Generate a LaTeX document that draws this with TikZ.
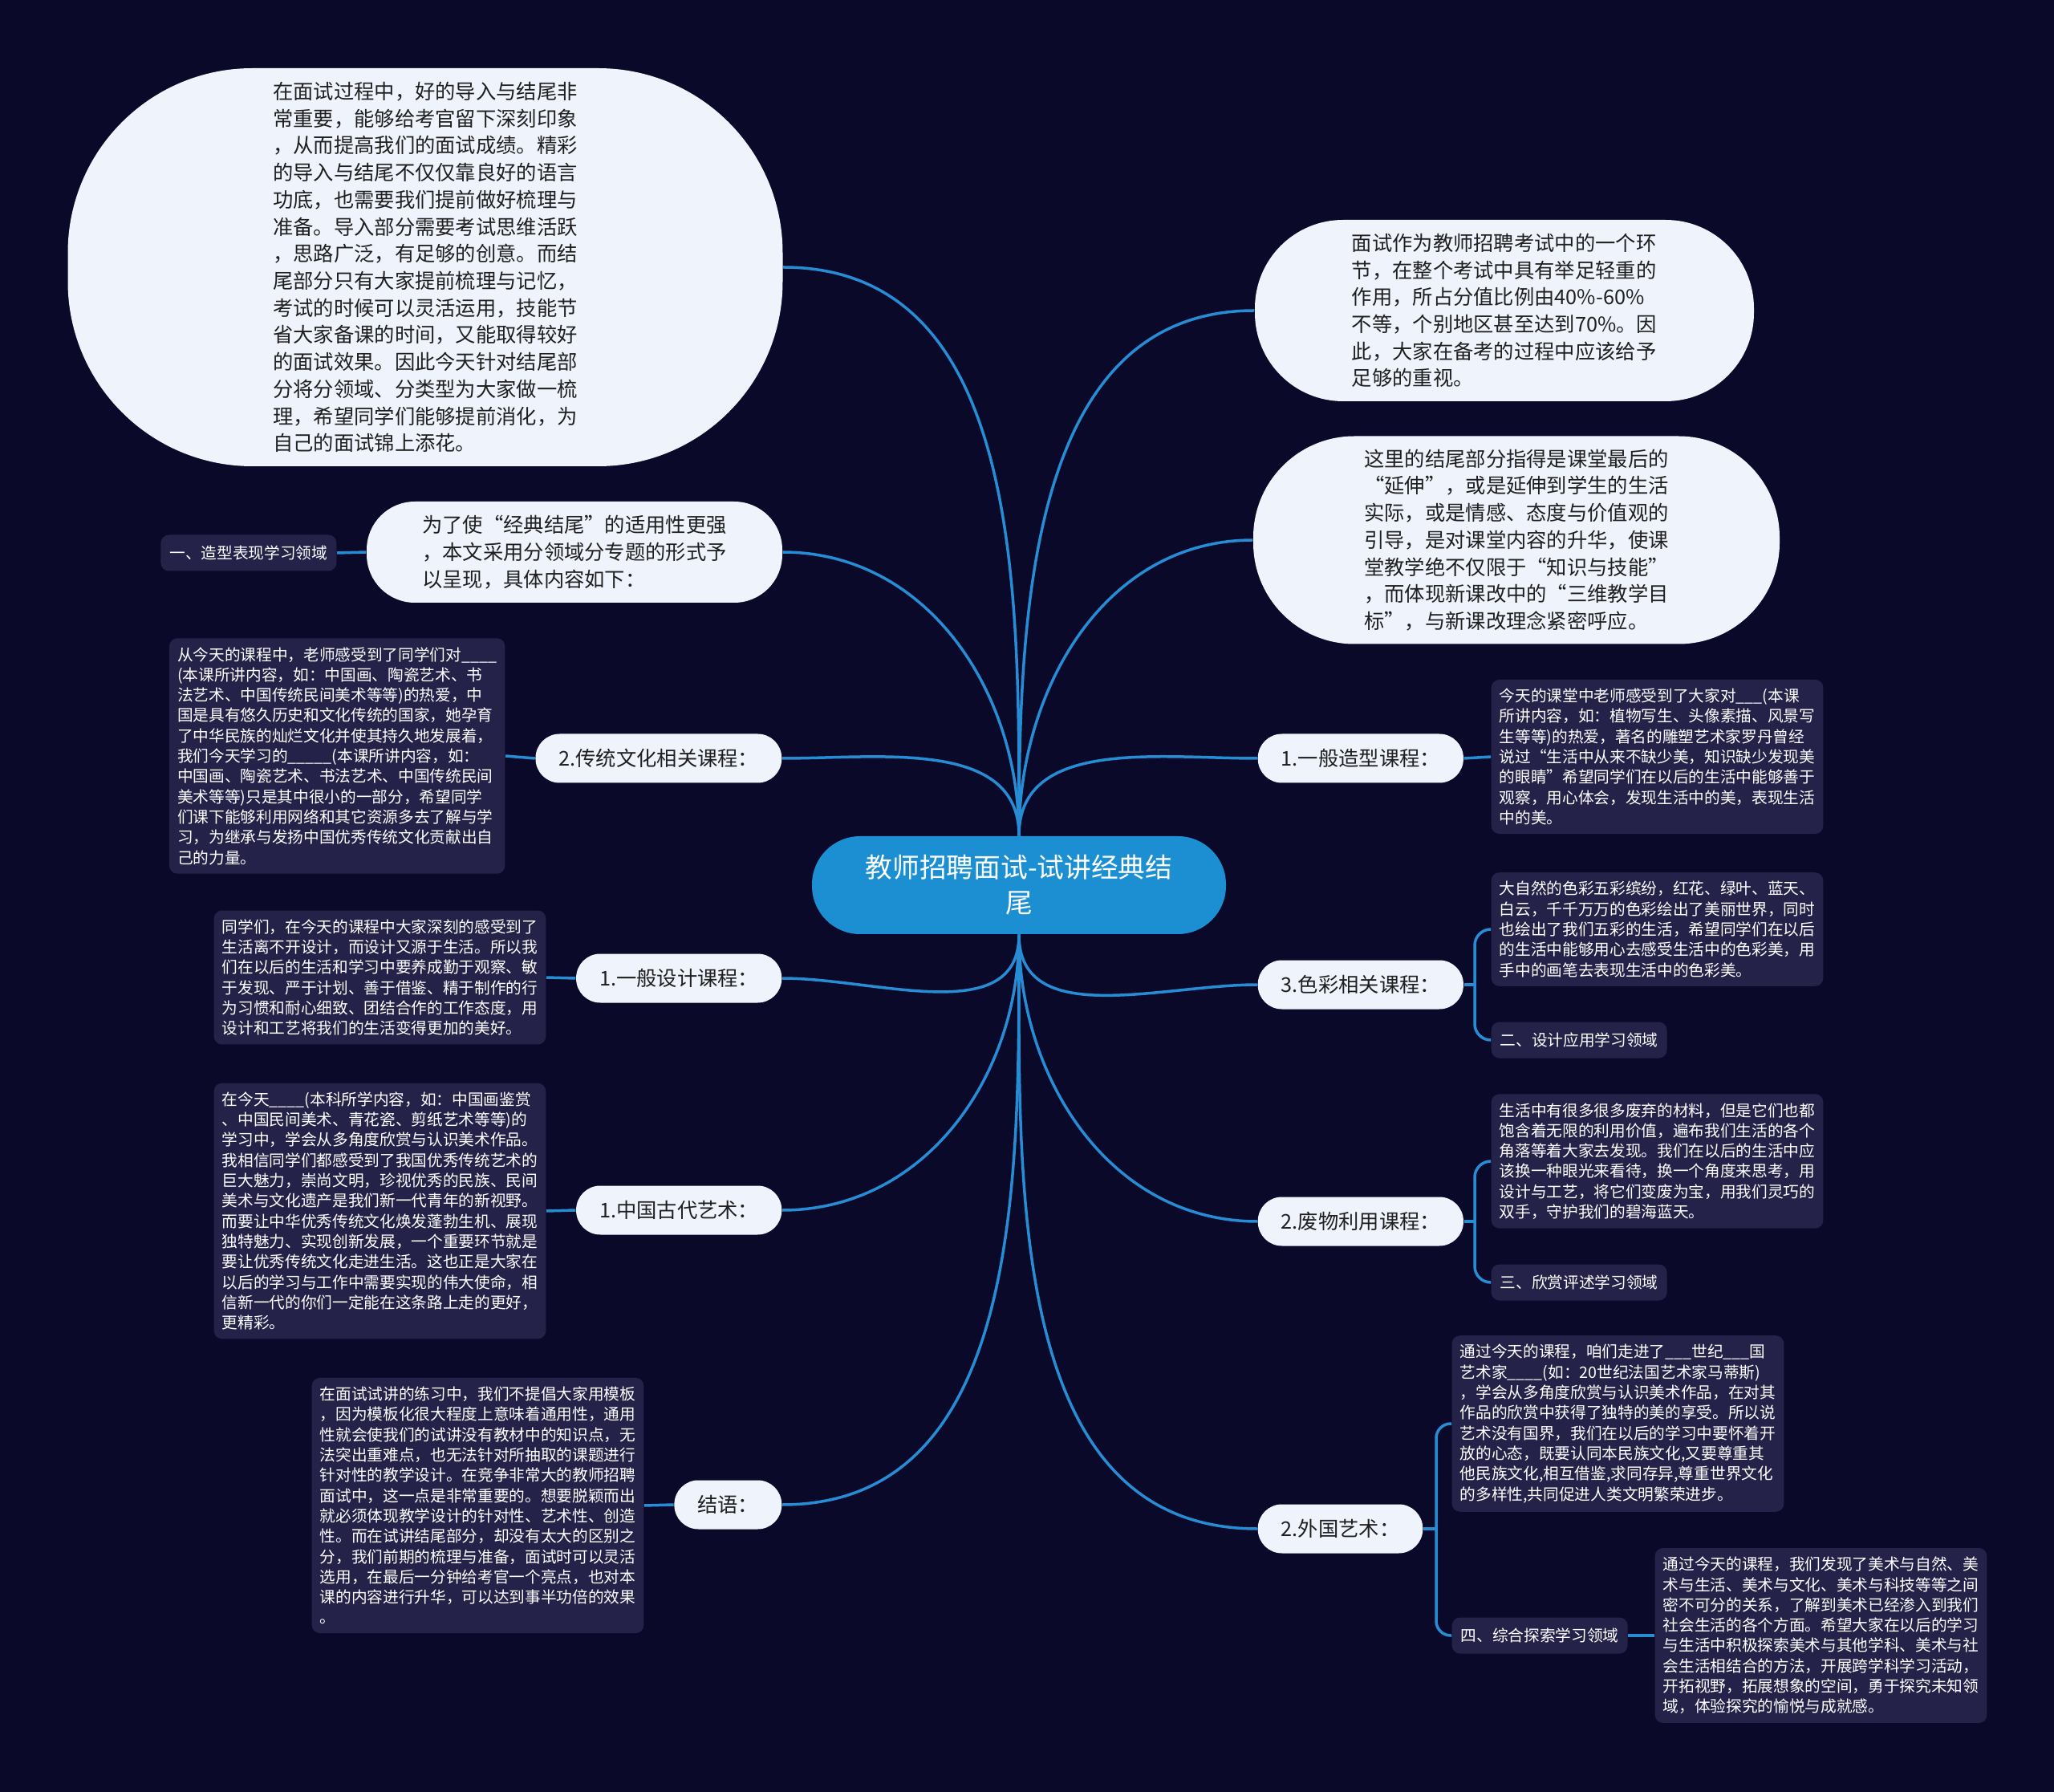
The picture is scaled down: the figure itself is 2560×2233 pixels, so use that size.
\documentclass[tikz,border=0pt]{standalone}
\usepackage{fontspec}
\setmainfont{Noto Sans CJK SC}
\usepackage{tikz}

\definecolor{bgnavy}{RGB}{11,9,42}
\definecolor{rootblue}{RGB}{28,143,210}
\definecolor{linkblue}{RGB}{38,140,212}
\definecolor{paleblue}{RGB}{238,243,252}
\definecolor{notebg}{RGB}{37,34,74}

\begin{document}
\begin{tikzpicture}[x=0.1mm, y=0.1mm,
    link/.style={draw=linkblue, line width=0.35mm},
    rootnode/.style={fill=rootblue, text=white, rounded corners=6mm, minimum width=51.6mm,
        minimum height=12.2mm, align=center, font=\fontsize{9.6pt}{12.5pt}\selectfont},
    bubble/.style={fill=paleblue, text=black!88, align=left, inner sep=0pt,
        font=\fontsize{7.2pt}{9.6pt}\selectfont},
    pill/.style={fill=paleblue, text=black!88, rounded corners=3mm, minimum height=6.1mm,
        inner xsep=2.9mm, font=\fontsize{7.2pt}{9.6pt}\selectfont},
    note/.style={fill=notebg, text=white, rounded corners=1mm, align=left, inner xsep=1mm,
        inner ysep=1.1mm, font=\fontsize{5.6pt}{7.2pt}\selectfont},
    tag/.style={fill=notebg, text=white, rounded corners=1mm, minimum height=4.5mm,
        inner xsep=1.1mm, font=\fontsize{5.6pt}{7.2pt}\selectfont}]

    % Background
    \fill[bgnavy] (0,0) rectangle (2560,-2233);
    \useasboundingbox (0,0) rectangle (2560,-2233);

    % Root
    \node[rootnode] (root) at (1270,-1103) {教师招聘面试-试讲经典结\\尾};

    % Left branches
    \node[bubble, minimum width=89.1mm, minimum height=49.6mm, rounded corners=23mm] (intro) at (530,-333)
        {在面试过程中，好的导入与结尾非\\常重要，能够给考官留下深刻印象\\，从而提高我们的面试成绩。精彩\\的导入与结尾不仅仅靠良好的语言\\功底，也需要我们提前做好梳理与\\准备。导入部分需要考试思维活跃\\，思路广泛，有足够的创意。而结\\尾部分只有大家提前梳理与记忆，\\考试的时候可以灵活运用，技能节\\省大家备课的时间，又能取得较好\\的面试效果。因此今天针对结尾部\\分将分领域、分类型为大家做一梳\\理，希望同学们能够提前消化，为\\自己的面试锦上添花。};
    \node[bubble, minimum width=51.8mm, minimum height=12.6mm, rounded corners=6mm] (scope) at (716,-688)
        {为了使“经典结尾”的适用性更强\\，本文采用分领域分专题的形式予\\以呈现，具体内容如下：};
    \node[tag, anchor=east] (area1) at (420,-689) {一、造型表现学习领域};

    \node[pill, anchor=east] (trad) at (975,-945) {2.传统文化相关课程：};
    \node[note, anchor=east] (tradtxt) at (630,-942)
        {从今天的课程中，老师感受到了同学们对\_\_\_\_\\(本课所讲内容，如：中国画、陶瓷艺术、书\\法艺术、中国传统民间美术等等)的热爱，中\\国是具有悠久历史和文化传统的国家，她孕育\\了中华民族的灿烂文化并使其持久地发展着，\\我们今天学习的\_\_\_\_\_(本课所讲内容，如：\\中国画、陶瓷艺术、书法艺术、中国传统民间\\美术等等)只是其中很小的一部分，希望同学\\们课下能够利用网络和其它资源多去了解与学\\习，为继承与发扬中国优秀传统文化贡献出自\\己的力量。};

    \node[pill, anchor=east] (design) at (975,-1219) {1.一般设计课程：};
    \node[note, anchor=east] (designtxt) at (681,-1218)
        {同学们，在今天的课程中大家深刻的感受到了\\生活离不开设计，而设计又源于生活。所以我\\们在以后的生活和学习中要养成勤于观察、敏\\于发现、严于计划、善于借鉴、精于制作的行\\为习惯和耐心细致、团结合作的工作态度，用\\设计和工艺将我们的生活变得更加的美好。};

    \node[pill, anchor=east] (ancient) at (975,-1508) {1.中国古代艺术：};
    \node[note, anchor=east] (ancienttxt) at (681,-1509)
        {在今天\_\_\_\_(本科所学内容，如：中国画鉴赏\\、中国民间美术、青花瓷、剪纸艺术等等)的\\学习中，学会从多角度欣赏与认识美术作品。\\我相信同学们都感受到了我国优秀传统艺术的\\巨大魅力，崇尚文明，珍视优秀的民族、民间\\美术与文化遗产是我们新一代青年的新视野。\\而要让中华优秀传统文化焕发蓬勃生机、展现\\独特魅力、实现创新发展，一个重要环节就是\\要让优秀传统文化走进生活。这也正是大家在\\以后的学习与工作中需要实现的伟大使命，相\\信新一代的你们一定能在这条路上走的更好，\\更精彩。};

    \node[pill, anchor=east] (ending) at (975,-1875) {结语：};
    \node[note, anchor=east] (endingtxt) at (803,-1876)
        {在面试试讲的练习中，我们不提倡大家用模板\\，因为模板化很大程度上意味着通用性，通用\\性就会使我们的试讲没有教材中的知识点，无\\法突出重难点，也无法针对所抽取的课题进行\\针对性的教学设计。在竞争非常大的教师招聘\\面试中，这一点是非常重要的。想要脱颖而出\\就必须体现教学设计的针对性、艺术性、创造\\性。而在试讲结尾部分，却没有太大的区别之\\分，我们前期的梳理与准备，面试时可以灵活\\选用，在最后一分钟给考官一个亮点，也对本\\课的内容进行升华，可以达到事半功倍的效果\\。};

    % Right branches
    \node[bubble, minimum width=62.2mm, minimum height=22.6mm, rounded corners=11mm] (weight) at (1875,-387)
        {面试作为教师招聘考试中的一个环\\节，在整个考试中具有举足轻重的\\作用，所占分值比例由40\%-60\%\\不等，个别地区甚至达到70\%。因\\此，大家在备考的过程中应该给予\\足够的重视。};
    \node[bubble, minimum width=65.6mm, minimum height=25.9mm, rounded corners=12.6mm] (extend) at (1890,-673)
        {这里的结尾部分指得是课堂最后的\\“延伸”，或是延伸到学生的生活\\实际，或是情感、态度与价值观的\\引导，是对课堂内容的升华，使课\\堂教学绝不仅限于“知识与技能”\\，而体现新课改中的“三维教学目\\标”，与新课改理念紧密呼应。};

    \node[pill, anchor=west] (shape) at (1567,-945) {1.一般造型课程：};
    \node[note, anchor=west] (shapetxt) at (1858,-943)
        {今天的课堂中老师感受到了大家对\_\_\_(本课\\所讲内容，如：植物写生、头像素描、风景写\\生等等)的热爱，著名的雕塑艺术家罗丹曾经\\说过“生活中从来不缺少美，知识缺少发现美\\的眼睛”希望同学们在以后的生活中能够善于\\观察，用心体会，发现生活中的美，表现生活\\中的美。};

    \node[pill, anchor=west] (colour) at (1567,-1227) {3.色彩相关课程：};
    \node[note, anchor=west] (colourtxt) at (1858,-1158)
        {大自然的色彩五彩缤纷，红花、绿叶、蓝天、\\白云，千千万万的色彩绘出了美丽世界，同时\\也绘出了我们五彩的生活，希望同学们在以后\\的生活中能够用心去感受生活中的色彩美，用\\手中的画笔去表现生活中的色彩美。};
    \node[tag, anchor=west] (area2) at (1858,-1296) {二、设计应用学习领域};

    \node[pill, anchor=west] (waste) at (1567,-1522) {2.废物利用课程：};
    \node[note, anchor=west] (wastetxt) at (1858,-1447)
        {生活中有很多很多废弃的材料，但是它们也都\\饱含着无限的利用价值，遍布我们生活的各个\\角落等着大家去发现。我们在以后的生活中应\\该换一种眼光来看待，换一个角度来思考，用\\设计与工艺，将它们变废为宝，用我们灵巧的\\双手，守护我们的碧海蓝天。};
    \node[tag, anchor=west] (area3) at (1858,-1598) {三、欣赏评述学习领域};

    \node[pill, anchor=west] (foreign) at (1567,-1905) {2.外国艺术：};
    \node[note, anchor=west] (foreigntxt) at (1809,-1774)
        {通过今天的课程，咱们走进了\_\_\_世纪\_\_\_国\\艺术家\_\_\_\_(如：20世纪法国艺术家马蒂斯)\\，学会从多角度欣赏与认识美术作品，在对其\\作品的欣赏中获得了独特的美的享受。所以说\\艺术没有国界，我们在以后的学习中要怀着开\\放的心态，既要认同本民族文化,又要尊重其\\他民族文化,相互借鉴,求同存异,尊重世界文化\\的多样性,共同促进人类文明繁荣进步。};
    \node[tag, anchor=west] (area4) at (1809,-2038) {四、综合探索学习领域};
    \node[note, anchor=west] (area4txt) at (2062,-2038)
        {通过今天的课程，我们发现了美术与自然、美\\术与生活、美术与文化、美术与科技等等之间\\密不可分的关系，了解到美术已经渗入到我们\\社会生活的各个方面。希望大家在以后的学习\\与生活中积极探索美术与其他学科、美术与社\\会生活相结合的方法，开展跨学科学习活动，\\开拓视野，拓展想象的空间，勇于探究未知领\\域，体验探究的愉悦与成就感。};

    % Links from the root
    \foreach \t in {intro, scope, trad}
        \draw[link] (root.north) to[out=90, in=0] (\t.east);
    \foreach \t in {design, ancient, ending}
        \draw[link] (root.south) to[out=-90, in=0] (\t.east);
    \foreach \t in {weight, extend, shape}
        \draw[link] (root.north) to[out=90, in=180] (\t.west);
    \foreach \t in {colour, waste, foreign}
        \draw[link] (root.south) to[out=-90, in=180] (\t.west);

    % Second level
    \draw[link] (scope.west) -- (area1.east);
    \draw[link] (trad.west) -- (tradtxt.east);
    \draw[link] (design.west) -- (designtxt.east);
    \draw[link] (ancient.west) -- (ancienttxt.east);
    \draw[link] (ending.west) -- (endingtxt.east);
    \draw[link] (shape.east) -- (shapetxt.west);

    \coordinate (colourfork) at (1838,-1227);
    \draw[link] (colour.east) -- (colourfork);
    \draw[link, rounded corners=2mm] (colourfork) |- (colourtxt.west);
    \draw[link, rounded corners=2mm] (colourfork) |- (area2.west);

    \coordinate (wastefork) at (1838,-1522);
    \draw[link] (waste.east) -- (wastefork);
    \draw[link, rounded corners=2mm] (wastefork) |- (wastetxt.west);
    \draw[link, rounded corners=2mm] (wastefork) |- (area3.west);

    \coordinate (foreignfork) at (1790,-1905);
    \draw[link] (foreign.east) -- (foreignfork);
    \draw[link, rounded corners=1.8mm] (foreignfork) |- (foreigntxt.west);
    \draw[link, rounded corners=1.8mm] (foreignfork) |- (area4.west);
    \draw[link] (area4.east) -- (area4txt.west);
\end{tikzpicture}
\end{document}
